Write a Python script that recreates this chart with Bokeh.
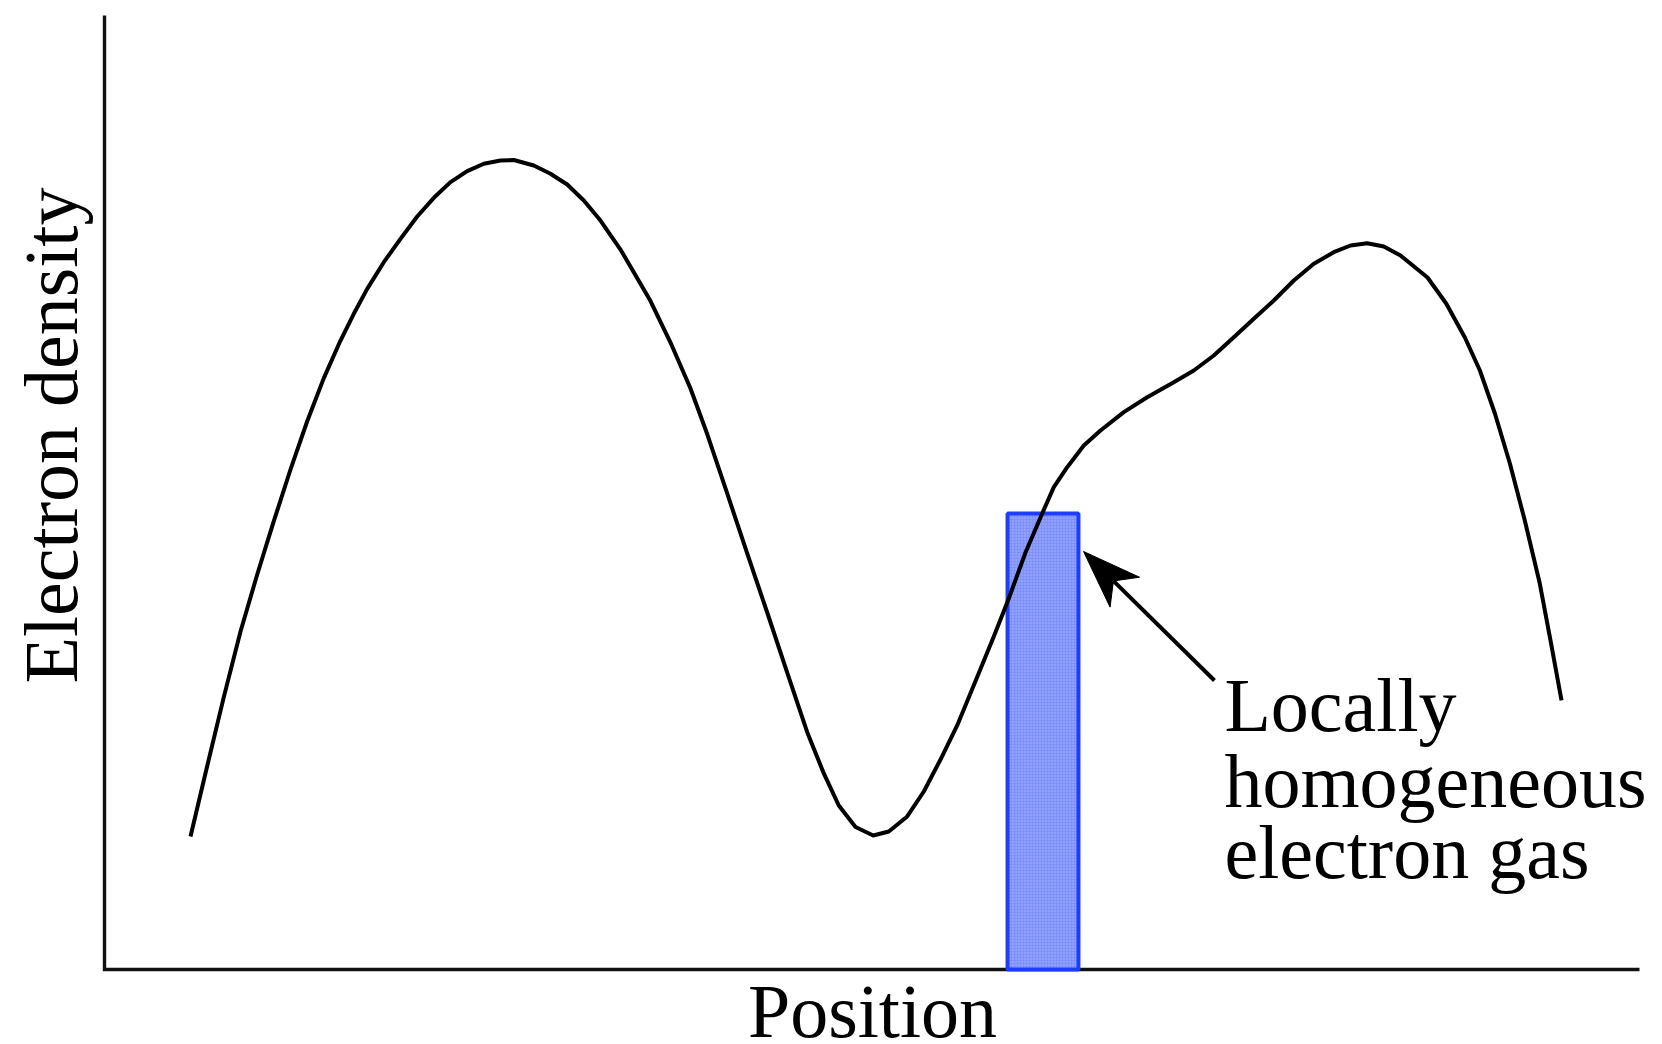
import math
from bokeh.plotting import figure
from bokeh.models import Range1d, Label
from bokeh.embed import file_html
from bokeh.resources import INLINE

# ---- data (arbitrary units 0..10) ----
position = [0.5603, 0.6691, 0.7772, 0.8860, 0.9948, 1.1029, 1.2117, 1.3205, 1.4287, 1.5375,
            1.6241, 1.7114, 1.8195, 1.9283, 2.0371, 2.1453, 2.2541, 2.3629, 2.4710, 2.5798,
            2.6664, 2.7967, 2.9055, 3.0143, 3.1225, 3.2313, 3.3616, 3.5570, 3.6873, 3.8176,
            3.9264, 4.0567, 4.1870, 4.3173, 4.4476, 4.5779, 4.6860, 4.7837, 4.8925, 5.0078,
            5.1094, 5.2293, 5.3375, 5.4463, 5.5550, 5.6853, 5.7935, 5.8912, 6.0000, 6.1088,
            6.1844, 6.2717, 6.3798, 6.4886, 6.6404, 6.7928, 6.9661, 7.0964, 7.2267, 7.3570,
            7.4873, 7.6176, 7.7479, 7.8782, 8.0085, 8.1173, 8.2261, 8.3342, 8.4430, 8.6189,
            8.7407, 8.8625, 8.9603, 9.0580, 9.1557, 9.2528, 9.3505, 9.4241, 9.4919]
density = [1.394, 2.133, 2.855, 3.543, 4.140, 4.699, 5.241, 5.747, 6.199, 6.593,
           6.873, 7.135, 7.414, 7.659, 7.893, 8.089, 8.253, 8.368, 8.446, 8.480,
           8.485, 8.428, 8.341, 8.229, 8.061, 7.851, 7.547, 7.007, 6.572, 6.090,
           5.613, 4.990, 4.361, 3.742, 3.113, 2.488, 2.055, 1.719, 1.494, 1.405,
           1.447, 1.604, 1.866, 2.201, 2.558, 3.066, 3.491, 3.889, 4.371, 4.780,
           5.056, 5.265, 5.493, 5.650, 5.842, 5.999, 6.156, 6.279, 6.436, 6.628,
           6.821, 7.013, 7.222, 7.397, 7.519, 7.589, 7.613, 7.579, 7.484, 7.254,
           6.981, 6.625, 6.279, 5.828, 5.304, 4.706, 4.046, 3.417, 2.820]

# locally homogeneous slab
slab_left = [5.883]
slab_right = [6.345]
slab_top = [4.780]
slab_bottom = [0.0]

# annotation
arrow_tip = (6.378, 4.382)
arrow_tail = (7.231, 3.029)
note_lines = ["Locally", "homogeneous", "electron gas"]
note_x = 7.296
note_y = [2.775, 1.978, 1.234]

x_label = "Position"
y_label = "Electron density"

# data domain drawn by the axes
X0, X1 = 0.0, 10.0
Y0, Y1 = 0.0, 10.0

# ---- layout (pixels) ----
W, H = 1662, 1044
AX_LEFT, AX_BOTTOM = 104, 969      # pixel position of the axes corner
PXX, PXY = 153.5, 95.4             # pixels per data unit
BASE_SHIFT = 26.7                  # renderer places 'alphabetic' text this far below its anchor

xr = Range1d(X0 - AX_LEFT / PXX, X0 + (W - AX_LEFT) / PXX)
yr = Range1d(Y0 - (H - AX_BOTTOM) / PXY, Y0 + AX_BOTTOM / PXY)

p = figure(frame_width=W, frame_height=H, x_range=xr, y_range=yr,
           output_backend="svg", toolbar_location=None,
           min_border_left=0, min_border_right=0, min_border_top=0, min_border_bottom=0)
p.xaxis.visible = False
p.yaxis.visible = False
p.outline_line_color = None
p.grid.visible = False
p.background_fill_color = "white"
p.border_fill_color = "white"

FONT = "Liberation Serif"
FS = "76px"

# axis lines (L shape over the data domain)
p.line([X0, X0, X1], [Y1, Y0, Y0], line_color="#111111", line_width=3.4, line_join="miter")

# slab
p.quad(left=slab_left, right=slab_right, top=slab_top, bottom=slab_bottom,
       fill_color="#7f92fb", line_color="#1f3dff", line_width=4,
       hatch_pattern="dot", hatch_color="white", hatch_alpha=0.35, hatch_scale=3)

# density curve
p.line(position, density, line_color="black", line_width=4, line_join="round")

# arrow (shaft + notched head, computed in pixel space)
dxp = (arrow_tip[0] - arrow_tail[0]) * PXX
dyp = (arrow_tip[1] - arrow_tail[1]) * PXY
L = math.hypot(dxp, dyp)
ux, uy = dxp / L, dyp / L
nx, ny = -uy, ux
head_len, half_w, notch = 58, 21, 42
def to_data(px, py):
    return arrow_tip[0] + px / PXX, arrow_tip[1] + py / PXY
c1 = to_data(-ux * head_len + nx * half_w, -uy * head_len + ny * half_w)
c2 = to_data(-ux * head_len - nx * half_w, -uy * head_len - ny * half_w)
nt = to_data(-ux * notch, -uy * notch)
p.line([arrow_tail[0], nt[0]], [arrow_tail[1], nt[1]], line_color="black", line_width=4)
p.patch([arrow_tip[0], c1[0], nt[0], c2[0]], [arrow_tip[1], c1[1], nt[1], c2[1]],
        fill_color="black", line_color="black", line_width=1)

for t, yy in zip(note_lines, note_y):
    p.add_layout(Label(x=note_x, y=yy, text=t, text_font=FONT, text_font_size=FS,
                       text_color="black", text_baseline="alphabetic", text_align="left"))

# axis titles (placed in pixel terms relative to the axes corner)
xl_cx, xl_base = 872.0, 1037.0     # pixel centre / baseline of the x title
yl_cy, yl_base = 435.0, 77.0       # pixel centre / baseline of the rotated y title
p.add_layout(Label(x=X0 + (xl_cx - AX_LEFT) / PXX,
                   y=Y0 - (xl_base - BASE_SHIFT - AX_BOTTOM) / PXY,
                   text=x_label, text_font=FONT, text_font_size=FS, text_color="black",
                   text_baseline="alphabetic", text_align="center"))
p.add_layout(Label(x=X0 + (yl_base - BASE_SHIFT - AX_LEFT) / PXX,
                   y=Y0 + (AX_BOTTOM - yl_cy) / PXY,
                   text=y_label, text_font=FONT, text_font_size=FS, text_color="black",
                   text_baseline="alphabetic", text_align="center", angle=math.pi / 2))

open("out.html", "w").write(file_html(p, INLINE))
